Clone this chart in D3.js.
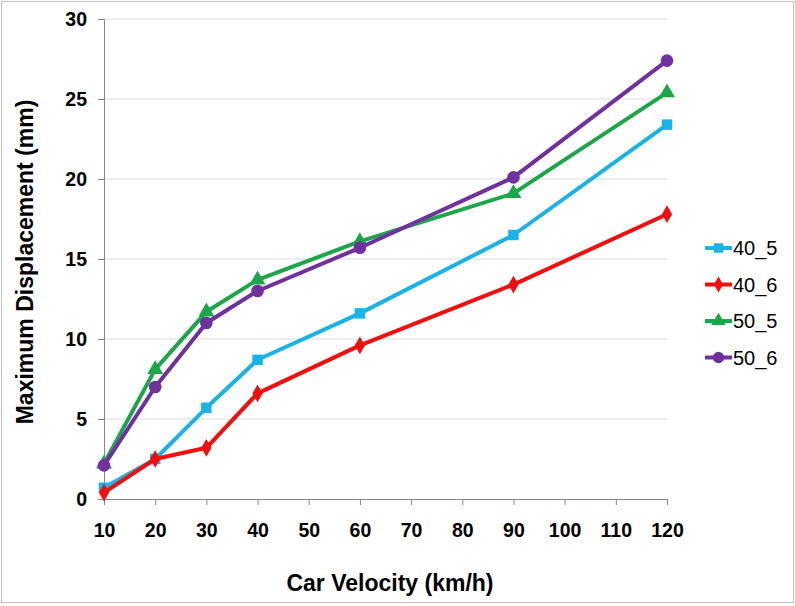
<!DOCTYPE html>
<html><head><meta charset="utf-8">
<script src="https://cdn.jsdelivr.net/npm/d3@7"></script>
<style>body{margin:0;background:#fff;}svg{display:block;font-family:"Liberation Sans",Arial,sans-serif;}</style>
</head><body><svg id="c" width="795" height="606"></svg>
<script>
const velocities = [10, 20, 30, 40, 60, 90, 120];
const s40_5 = [0.7, 2.5, 5.7, 8.7, 11.6, 16.5, 23.4];
const s40_6 = [0.4, 2.5, 3.2, 6.6, 9.6, 13.4, 17.8];
const s50_5 = [2.2, 8.1, 11.7, 13.7, 16.1, 19.1, 25.4];
const s50_6 = [2.1, 7.0, 11.0, 13.0, 15.7, 20.1, 27.4];
const seriesNames = ["40_5", "40_6", "50_5", "50_6"];
const xTicks = [10,20,30,40,50,60,70,80,90,100,110,120];
const yTicks = [0,5,10,15,20,25,30];

const series = [
  {name: seriesNames[0], values: s40_5, color: "#1AB3E8", marker: "square"},
  {name: seriesNames[1], values: s40_6, color: "#F30D0D", marker: "diamond"},
  {name: seriesNames[2], values: s50_5, color: "#1CA64A", marker: "triangle"},
  {name: seriesNames[3], values: s50_6, color: "#7030A0", marker: "circle"}
];

const svg = d3.select("#c");
svg.append("rect").attr("x",1.5).attr("y",1.5).attr("width",792).attr("height",601)
  .attr("fill","#fff").attr("stroke","#c0c0c0").attr("stroke-width",1);

const x = d3.scaleLinear().domain([10,120]).range([104,667]);
const y = d3.scaleLinear().domain([0,30]).range([499,19]);

// gridlines
svg.append("g").selectAll("line").data(yTicks.filter(d=>d>0)).join("line")
  .attr("x1",104).attr("x2",667).attr("y1",d=>y(d)).attr("y2",d=>y(d))
  .attr("stroke","#dcdcdc").attr("stroke-width",1);

const xAxis = svg.append("g").attr("transform","translate(0,499)")
  .call(d3.axisBottom(x).tickValues(xTicks).tickSize(6).tickPadding(18).tickFormat(d3.format("d")));
const yAxis = svg.append("g").attr("transform","translate(104,0)")
  .call(d3.axisLeft(y).tickValues(yTicks).tickSize(6).tickPadding(11).tickFormat(d3.format("d")));
[xAxis,yAxis].forEach(a=>{
  a.select(".domain").attr("stroke","#888");
  a.selectAll(".tick line").attr("stroke","#888");
  a.selectAll(".tick text").attr("fill","#000").style("font-size","19.5px").style("font-weight","bold")
    .style("font-family","'Liberation Sans',Arial,sans-serif");
});

const line = d3.line().x(d=>x(d[0])).y(d=>y(d[1]));
const sym = {square:d3.symbolSquare, diamond:d3.symbolDiamond, triangle:d3.symbolTriangle, circle:d3.symbolCircle};
const symSize = {square:110, diamond:90, triangle:110, circle:125};

series.forEach(s=>{
  const pts = velocities.map((v,i)=>[v,s.values[i]]);
  svg.append("path").datum(pts).attr("d",line).attr("fill","none")
    .attr("stroke",s.color).attr("stroke-width",4).attr("stroke-linejoin","round");
  svg.append("g").selectAll("path").data(pts).join("path")
    .attr("transform",d=>`translate(${x(d[0])},${y(d[1])})`)
    .attr("d",d3.symbol().type(sym[s.marker]).size(symSize[s.marker]))
    .attr("fill",s.color);
});

// legend
const lg = svg.append("g");
series.forEach((s,i)=>{
  const ly = 248 + i*36.5;
  lg.append("line").attr("x1",705).attr("x2",732).attr("y1",ly).attr("y2",ly)
    .attr("stroke",s.color).attr("stroke-width",4);
  lg.append("path").attr("transform",`translate(718.5,${ly})`)
    .attr("d",d3.symbol().type(sym[s.marker]).size(symSize[s.marker]*0.8)).attr("fill",s.color);
  lg.append("text").attr("x",733).attr("y",ly+7).text(s.name)
    .style("font-size","20px").attr("fill","#000");
});

svg.append("text").attr("x",390).attr("y",591).attr("text-anchor","middle")
  .style("font-size","23px").style("font-weight","bold").text("Car Velocity (km/h)");
svg.append("text").attr("transform","translate(33,262) rotate(-90)").attr("text-anchor","middle")
  .style("font-size","23px").style("font-weight","bold").text("Maximum Displacement (mm)");
</script></body></html>
